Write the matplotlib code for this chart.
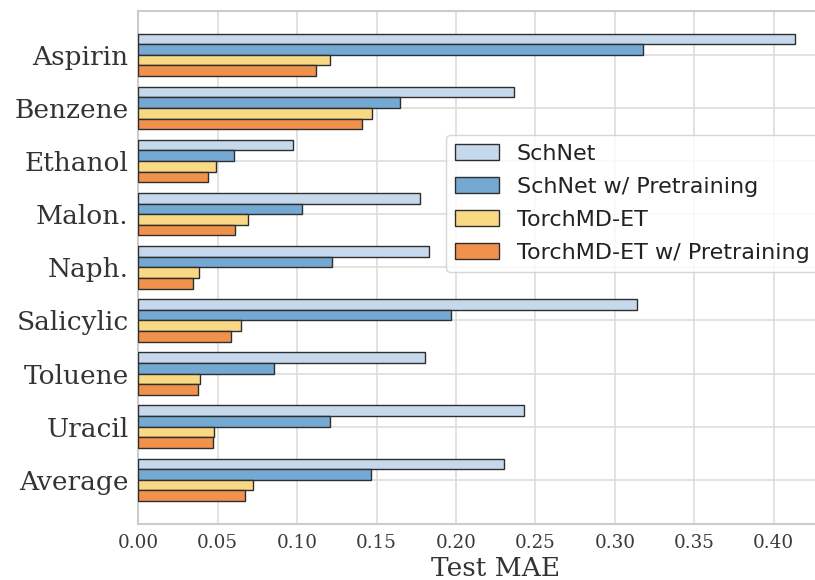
import numpy as np
import matplotlib
matplotlib.use('Agg')
from matplotlib import pyplot as plt

molecules = ['Aspirin', 'Benzene', 'Ethanol', 'Malon.', 'Naph.',
             'Salicylic', 'Toluene', 'Uracil', 'Average']
series_names = ['SchNet', 'SchNet w/ Pretraining',
                'TorchMD-ET', 'TorchMD-ET w/ Pretraining']

schnet = [0.4135, 0.2368, 0.0976, 0.1774, 0.1829, 0.3138, 0.1804, 0.2431, 0.2305]
schnet_pre = [0.318, 0.1647, 0.0602, 0.1031, 0.1221, 0.1966, 0.0855, 0.1207, 0.1463]
torchmd = [0.121, 0.1474, 0.0487, 0.069, 0.0385, 0.0649, 0.0388, 0.0479, 0.072]
torchmd_pre = [0.112, 0.1411, 0.044, 0.061, 0.0347, 0.0583, 0.0377, 0.0473, 0.0671]

colors = ['#c6d9ec', '#74a9d4', '#f9d984', '#f0924c']


def main():
    fig = plt.figure(figsize=(8.15, 5.8), dpi=100)
    # axes runs past the right edge of the figure, as in the cropped original
    ax = fig.add_axes([0.1697, 0.0966, 0.877, 0.885])

    y = np.arange(len(molecules))
    h = 0.2
    all_series = [schnet, schnet_pre, torchmd, torchmd_pre]
    for i, vals in enumerate(all_series):
        ax.barh(y + (i - 1.5) * h, vals, height=h, color=colors[i],
                edgecolor='#2e2e2e', linewidth=1.0, label=series_names[i],
                zorder=3)

    ax.set_xlim(0, 0.45)
    ax.set_ylim(8.83, -0.83)
    ax.set_yticks(y)
    ax.set_yticklabels(molecules, family='DejaVu Serif', fontsize=19,
                       color='#333333')
    ticks = np.arange(0, 0.41, 0.05)
    ax.set_xticks(ticks)
    ax.set_xticklabels(['%.2f' % v for v in ticks],
                       family='DejaVu Serif', fontsize=13.2, color='#3a3a3a')
    ax.tick_params(length=0, pad=7)
    ax.tick_params(axis='x', pad=7)
    ax.set_xlabel('Test MAE', family='DejaVu Serif', fontsize=19,
                  color='#333333', labelpad=3)

    ax.grid(True, color='#dddddd', linewidth=1.2, zorder=0)
    ax.set_axisbelow(True)
    for s in ax.spines.values():
        s.set_color('#cccccc')
        s.set_linewidth(1.5)

    leg = ax.legend(loc='upper left', bbox_to_anchor=(0.547, 0.767),
                    bbox_transform=fig.transFigure, borderaxespad=0,
                    prop={'family': 'DejaVu Sans', 'size': 16},
                    labelspacing=0.58, frameon=True, fancybox=True)
    leg.get_frame().set_edgecolor('#cccccc')
    for t in leg.get_texts():
        t.set_color('#222222')

    fig.savefig('out.png', dpi=100)


main()
